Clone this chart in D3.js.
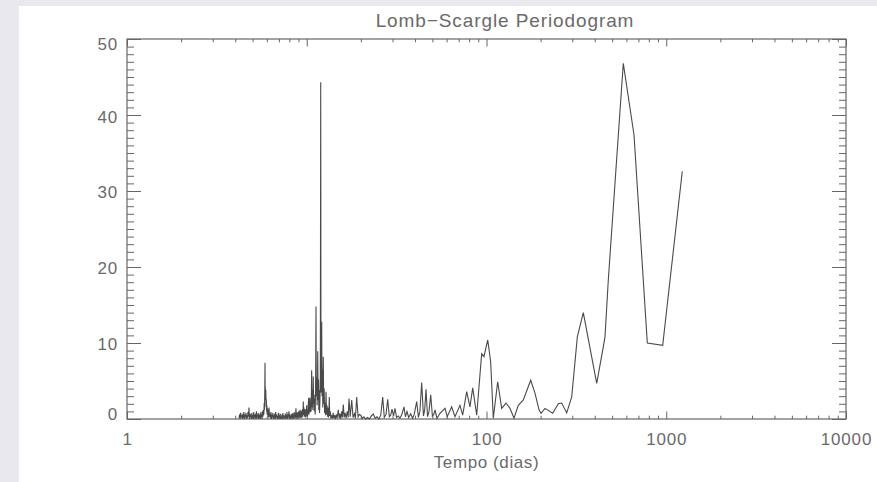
<!DOCTYPE html>
<html>
<head>
<meta charset="utf-8">
<script src="https://cdn.jsdelivr.net/npm/d3@7"></script>
<style>
  html, body { margin: 0; padding: 0; background: #e8e8ee; }
  svg { display: block; }
  text { font-family: "Liberation Sans", "DejaVu Sans", sans-serif; fill: #6a6a6a; }
</style>
</head>
<body>
<svg id="chart" width="877" height="482"></svg>
<script>
// ---- Data (period in days, Lomb-Scargle power) ----
const titleText = "Lomb\u2212Scargle Periodogram";
const xLabel = "Tempo (dias)";
const xMajorTicks = [1, 10, 100, 1000, 10000];
const yMajorTicks = [0, 10, 20, 30, 40, 50];

// 4.2 - 5.8 days: dense low-power band
const segA = [
  [4.20,0.1],[4.23,0.6],[4.26,0.0],[4.29,0.8],[4.32,0.2],[4.35,0.5],[4.38,0.0],[4.41,0.7],
  [4.44,0.1],[4.47,0.9],[4.50,0.0],[4.53,0.6],[4.56,0.2],[4.59,0.8],[4.62,0.0],[4.65,0.5],
  [4.68,0.1],[4.71,0.9],[4.74,0.3],[4.77,1.5],[4.80,0.0],[4.83,0.7],[4.86,0.2],[4.89,0.6],
  [4.92,0.0],[4.95,0.8],[4.98,0.1],[5.01,0.5],[5.04,0.0],[5.07,0.9],[5.10,0.2],[5.13,0.6],
  [5.16,0.0],[5.19,0.7],[5.22,0.1],[5.25,1.0],[5.28,0.0],[5.31,0.6],[5.34,0.2],[5.37,0.8],
  [5.40,0.0],[5.43,0.5],[5.46,0.1],[5.49,0.7],[5.52,0.0],[5.55,0.9],[5.58,0.2],[5.61,0.6],
  [5.64,0.0],[5.67,1.0],[5.70,0.3],[5.73,1.2],[5.76,0.5]
];
// peak near 5.9 days
const segPeak6 = [
  [5.78,1.0],[5.80,2.1],[5.82,1.2],[5.84,3.6],[5.86,7.4],[5.87,2.5],[5.88,4.2],[5.90,3.0],
  [5.92,3.8],[5.94,1.6],[5.96,2.6],[5.98,1.0],[6.00,1.8],[6.02,0.6],[6.05,1.4],[6.08,0.4],
  [6.11,1.2],[6.14,0.2],[6.17,1.5],[6.20,0.3]
];
// 6.2 - 9.5 days
const segB = [
  [6.24,0.7],[6.28,0.1],[6.32,0.9],[6.36,0.0],[6.40,0.6],[6.44,0.2],[6.48,0.8],[6.52,0.0],
  [6.56,0.5],[6.60,0.1],[6.64,0.7],[6.68,0.0],[6.72,0.9],[6.76,0.2],[6.80,0.6],[6.84,0.0],
  [6.88,0.4],[6.92,0.1],[6.96,0.8],[7.00,0.0],[7.04,0.5],[7.08,0.2],[7.12,0.7],[7.16,0.0],
  [7.20,0.3],[7.24,0.1],[7.28,0.6],[7.32,0.0],[7.36,0.8],[7.40,0.1],[7.44,0.5],[7.48,0.0],
  [7.52,0.4],[7.56,0.2],[7.60,0.7],[7.64,0.0],[7.68,0.5],[7.72,0.1],[7.76,0.9],[7.80,0.0],
  [7.84,0.6],[7.88,0.2],[7.92,0.5],[7.96,1.0],[8.00,0.0],[8.04,0.6],[8.08,0.1],[8.12,0.4],
  [8.16,0.0],[8.20,0.7],[8.24,0.2],[8.28,0.5],[8.32,0.0],[8.36,0.8],[8.40,0.1],[8.44,0.6],
  [8.48,0.0],[8.52,0.9],[8.56,0.3],[8.60,0.7],[8.64,0.1],[8.68,0.8],[8.71,1.4],[8.74,0.2],
  [8.78,0.6],[8.82,0.0],[8.86,0.9],[8.90,0.2],[8.94,0.7],[8.98,0.1],[9.02,1.0],[9.06,0.3],
  [9.10,0.8],[9.14,0.2],[9.17,1.2],[9.20,0.4],[9.24,0.9],[9.28,0.1],[9.32,1.1],[9.36,0.3],
  [9.40,0.8],[9.44,0.2],[9.48,1.3],[9.52,0.5]
];
// 9.5 - 20 days: main peak region
const segC = [
  [9.57,2.3],[9.60,0.6],[9.64,1.5],[9.68,0.3],[9.72,1.1],[9.76,0.4],[9.80,1.3],[9.84,0.2],
  [9.88,0.9],[9.93,0.5],[9.99,1.8],[10.03,0.3],[10.08,1.2],[10.13,0.4],[10.18,1.6],[10.25,2.8],
  [10.30,0.6],[10.36,1.9],[10.42,2.8],[10.47,0.9],[10.52,2.2],[10.58,1.0],[10.65,6.4],[10.70,1.5],
  [10.76,3.8],[10.82,1.2],[10.87,5.6],[10.92,2.0],[10.98,3.2],[11.03,1.0],[11.08,2.6],[11.14,0.6],
  [11.20,4.5],[11.26,14.8],[11.30,3.0],[11.36,5.5],[11.42,1.8],[11.47,4.0],[11.51,8.9],[11.56,2.5],
  [11.62,5.2],[11.67,1.2],[11.72,3.8],[11.78,0.8],[11.84,2.5],[11.90,6.0],[11.96,44.3],[12.00,3.5],
  [12.05,9.0],[12.11,12.8],[12.16,3.0],[12.22,6.5],[12.28,1.5],[12.36,8.2],[12.42,2.0],[12.50,4.0],
  [12.57,0.8],[12.64,2.1],[12.72,0.5],[12.80,3.6],[12.88,0.6],[12.96,1.8],[13.05,0.3],[13.14,1.5],
  [13.22,0.2],[13.30,1.2],[13.35,2.9],[13.42,0.4],[13.52,1.0],[13.62,0.1],[13.77,0.4],[13.90,0.1],
  [14.02,0.8],[14.15,0.1],[14.30,0.5],[14.45,0.0],[14.60,0.6],[14.75,0.1],[14.98,1.2],[15.15,0.1],
  [15.30,0.7],[15.45,0.0],[15.65,1.0],[15.80,0.2],[15.97,1.9],[16.15,0.2],[16.35,0.8],[16.55,0.1],
  [16.80,1.0],[17.00,0.2],[17.18,2.7],[17.45,0.3],[17.79,2.5],[18.10,0.2],[18.40,0.7],[18.65,0.1],
  [18.96,2.9],[19.30,0.3],[19.60,0.6]
];
// 20 - 55 days
const segD = [
  [19.96,0.5],[20.4,0.1],[20.82,0.3],[21.3,0.0],[21.8,0.2],[22.3,0.0],[22.9,0.4],[23.45,0.65],
  [24.0,0.1],[24.6,0.3],[25.2,0.0],[25.8,0.5],[26.46,2.9],[27.0,0.2],[27.6,0.6],[28.21,2.6],
  [28.8,0.3],[29.3,0.5],[29.81,1.3],[30.4,0.4],[30.97,1.4],[31.6,0.2],[32.3,0.4],[33.0,0.1],
  [33.8,0.6],[34.75,1.6],[35.4,0.3],[36.12,1.0],[36.9,0.2],[37.87,0.7],[38.8,0.1],[39.6,0.6],
  [40.9,2.3],[41.8,0.2],[42.6,1.0],[43.6,4.8],[44.6,0.4],[45.3,1.2],[46.08,3.9],[47.0,0.3],
  [47.9,1.0],[48.93,3.2],[50.0,0.4],[50.9,0.6],[51.71,1.2],[53.0,0.1],[54.0,0.4]
];
// 55 - 1230 days: long periods
const segE = [
  [55.1,0.75],[58.8,1.4],[60.5,0.3],[64.0,1.6],[66.8,0.3],[71.2,1.8],[73.7,0.5],[77.6,3.6],
  [80.9,1.6],[83.8,4.1],[88.2,0.5],[94.0,8.6],[96.8,8.2],[101.6,10.4],[105.5,7.5],[109.1,0.1],
  [115.4,4.9],[121.5,1.4],[128.4,2.1],[135.1,1.4],[142.2,0.1],[150.3,1.8],[160.2,2.5],[176.2,5.1],
  [186.1,3.4],[196.0,1.2],[201.1,0.75],[211.6,1.4],[233.5,0.75],[250.8,2.0],[262.0,2.1],[279.4,0.8],
  [297.9,2.9],[320.1,10.8],[345.6,14.0],[410.3,4.7],[446.4,9.5],[456.2,10.8],[476.0,18.3],
  [576.8,46.8],[661.5,37.4],[784.6,10.0],[955.5,9.7],[1228,32.6]
];

const spectrum = [].concat(segA, segPeak6, segB, segC, segD, segE);

// ---- Layout ----
const svg = d3.select("#chart");
const W = 877, H = 482;
const plot = { left: 127, right: 846, top: 39, bottom: 419 };

// white panel
svg.append("rect").attr("x", 19).attr("y", 6).attr("width", W - 19).attr("height", H - 6)
  .attr("fill", "#ffffff");

const x = d3.scaleLog().domain([1, 10000]).range([plot.left, plot.right]);
const y = d3.scaleLinear().domain([0, 50]).range([plot.bottom, plot.top]);

const axisColor = "#666";

// minor x ticks
const xMinor = [];
for (const dec of [1, 10, 100, 1000]) for (let m = 2; m <= 9; m++) xMinor.push(dec * m);
const yMinor = d3.range(0, 51).filter(v => v % 10 !== 0);

function styleAxis(g) {
  g.select(".domain").remove();
  g.selectAll(".tick line").attr("stroke", axisColor).attr("stroke-width", 1);
  g.selectAll("text").style("font-size", "17px").attr("fill", "#6a6a6a").style("letter-spacing", "0.8px");
}

// bottom axis
svg.append("g").attr("transform", `translate(0,${plot.bottom})`)
  .call(d3.axisBottom(x).tickValues(xMajorTicks).tickSizeInner(-7.5).tickSizeOuter(0)
    .tickPadding(14).tickFormat(d3.format("d")))
  .call(styleAxis);
svg.append("g").attr("transform", `translate(0,${plot.bottom})`)
  .call(d3.axisBottom(x).tickValues(xMinor).tickSizeInner(-3.3).tickSizeOuter(0).tickFormat(""))
  .call(styleAxis);
// top axis
svg.append("g").attr("transform", `translate(0,${plot.top})`)
  .call(d3.axisTop(x).tickValues(xMajorTicks).tickSizeInner(-7.5).tickSizeOuter(0).tickFormat(""))
  .call(styleAxis);
svg.append("g").attr("transform", `translate(0,${plot.top})`)
  .call(d3.axisTop(x).tickValues(xMinor).tickSizeInner(-3.3).tickSizeOuter(0).tickFormat(""))
  .call(styleAxis);
// left axis
const yOffsets = { 0: -4.5, 10: 1.2, 20: 1.2, 30: 1.2, 40: 1.8, 50: 5.5 };
svg.append("g").attr("transform", `translate(${plot.left},0)`)
  .call(d3.axisLeft(y).tickValues(yMajorTicks).tickSizeInner(-14).tickSizeOuter(0).tickPadding(9))
  .call(styleAxis)
  .call(g => g.selectAll(".tick text").attr("dy", d => (0.32 * 17 + yOffsets[d]) + "px"));
svg.append("g").attr("transform", `translate(${plot.left},0)`)
  .call(d3.axisLeft(y).tickValues(yMinor).tickSizeInner(-7).tickSizeOuter(0).tickFormat(""))
  .call(styleAxis);
// right axis
svg.append("g").attr("transform", `translate(${plot.right},0)`)
  .call(d3.axisRight(y).tickValues(yMajorTicks).tickSizeInner(-14).tickSizeOuter(0).tickFormat(""))
  .call(styleAxis);
svg.append("g").attr("transform", `translate(${plot.right},0)`)
  .call(d3.axisRight(y).tickValues(yMinor).tickSizeInner(-7).tickSizeOuter(0).tickFormat(""))
  .call(styleAxis);

// frame
svg.append("rect").attr("x", plot.left).attr("y", plot.top)
  .attr("width", plot.right - plot.left).attr("height", plot.bottom - plot.top)
  .attr("fill", "none").attr("stroke", axisColor).attr("stroke-width", 1.2);

// data line
const line = d3.line().x(d => x(d[0])).y(d => y(d[1]));
svg.append("path").datum(spectrum)
  .attr("d", line).attr("fill", "none").attr("stroke", "#4a4a4a").attr("stroke-width", 1.1)
  .attr("stroke-linejoin", "miter");

// title
svg.append("text").attr("x", 505).attr("y", 27).attr("text-anchor", "middle")
  .style("font-size", "19px").style("letter-spacing", "0.9px").text(titleText);

// x axis label
svg.append("text").attr("x", (plot.left + plot.right) / 2).attr("y", 468).attr("text-anchor", "middle")
  .style("font-size", "17px").style("letter-spacing", "0.6px").text(xLabel);
</script>
</body>
</html>
